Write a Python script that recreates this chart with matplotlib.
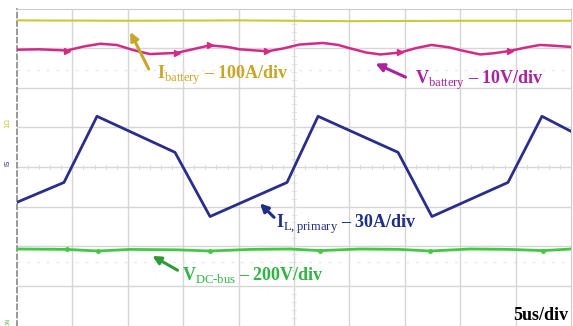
import matplotlib.pyplot as plt

# scope trace readings, time in us (5us/div), level in divisions (0-8 from bottom)
t_ibat = [0, 10, 20, 30, 40, 50]
ibat = [7.70, 7.69, 7.70, 7.68, 7.69, 7.69]

t_vbat = [0, 2.0, 4.5, 6.0, 7.5, 9.0, 10.5, 12.0, 14.4, 16.0, 17.4, 19.0, 20.1,
          22.6, 24.0, 25.5, 27.6, 29.0, 30.0, 31.5, 32.8, 34.6, 36.0, 37.4,
          39.0, 40.0, 41.8, 43.0, 44.5, 46.0, 47.2, 48.5, 50]
vbat = [6.96, 6.97, 6.94, 7.04, 7.11, 7.08, 6.95, 6.85, 6.88, 6.98, 7.07, 7.03, 6.97,
        6.92, 6.99, 7.09, 7.13, 7.08, 7.00, 6.89, 6.84, 6.89, 7.00, 7.08,
        7.02, 6.95, 6.84, 6.87, 6.93, 7.02, 7.08, 7.06, 7.03]

t_il = [0, 4.24, 7.22, 14.26, 17.42, 24.37, 27.17, 34.39, 37.45, 44.31, 47.38, 50]
il = [3.11, 3.61, 5.28, 4.37, 2.75, 3.61, 5.28, 4.37, 2.75, 3.61, 5.28, 4.90]

t_vdc = [0, 4.51, 7.31, 10.2, 14.44, 17.42, 21.03, 24.64, 27.35, 30.96,
         34.57, 37.27, 40.88, 44.49, 47.47, 50]
vdc = [1.93, 1.92, 1.88, 1.92, 1.91, 1.88, 1.92, 1.93, 1.89, 1.93,
       1.92, 1.88, 1.93, 1.92, 1.89, 1.93]

plt.rcParams['mathtext.fontset'] = 'custom'
plt.rcParams['mathtext.rm'] = 'Liberation Serif'
plt.rcParams['mathtext.bf'] = 'Liberation Serif:bold'

fig = plt.figure(figsize=(5.73, 3.26), dpi=100)
ax = fig.add_axes([17 / 573, 0.5 / 326, 554 / 573, 317 / 326])
ax.set_xlim(0, 50)
ax.set_ylim(0, 8)

# scope graticule
grid_c = '#d6d6d6'
for x in range(5, 50, 5):
    ax.axvline(x, color=grid_c, lw=1, zorder=1)
for y in range(1, 8):
    ax.axhline(y, color=grid_c, lw=1, zorder=1)
ax.axhline(6.46, color='#e8e8e8', lw=1, ls=(0, (2, 5)), zorder=1)
ax.axhline(1.59, color='#e8e8e8', lw=1, ls=(0, (2, 5)), zorder=1)
for i in range(1, 50):
    ax.plot([i, i], [3.95, 4.05], color='#dadada', lw=0.7, zorder=1)
for i in range(1, 40):
    ax.plot([24.8, 25.2], [i * 0.2, i * 0.2], color='#e0e0e0', lw=0.7, zorder=1)

for side in ['top', 'right', 'bottom']:
    ax.spines[side].set_color('#cccccc')
ax.spines['left'].set_color('#888888')
ax.spines['left'].set_linestyle((0, (3, 2)))
ax.spines['left'].set_linewidth(1.2)
ax.set_xticks([])
ax.set_yticks([])

# traces
ax.plot(t_ibat, ibat, color='#c9c93a', lw=1.5, zorder=3)
ax.plot(t_vbat, vbat, color='#d22a86', lw=1.8, zorder=3,
        marker='>', markersize=4, markevery=[2, 8, 10, 13, 21, 28])
ax.plot(t_il, il, color='#2b2c8c', lw=2.0, zorder=3)
ax.plot(t_vdc, vdc, color='#43c843', lw=2.0, zorder=3,
        marker='o', markersize=2.5, markevery=[1, 2, 5, 8, 11, 14])

# channel markers on the left edge
fig.text(7 / 573, 1 - 123 / 326, '1Ω', rotation=90, fontsize=5, color='#c9c93a',
         ha='center', va='center')
fig.text(7 / 573, 1 - 163 / 326, 'IS', rotation=90, fontsize=5, color='#2b2c8c',
         ha='center', va='center')
fig.text(8 / 573, 1 - 322 / 326, 'DN', rotation=90, fontsize=4, color='#43c843',
         ha='center', va='center')

# labels with arrows
fs = 13
ax.text(12.64, 6.21, r'$\mathbf{I}_{\mathrm{battery}}$ – 100A/div', color='#c8a62a',
        fontsize=fs, fontweight='bold', family='Liberation Serif', va='baseline', zorder=5)
ax.annotate('', xy=(10.11, 7.47), xytext=(12.0, 6.41),
            arrowprops=dict(arrowstyle='-|>', color='#c8a62a', lw=2.2, mutation_scale=12))

ax.text(35.92, 6.09, r'$\mathbf{V}_{\mathrm{battery}}$ – 10V/div', color='#a8239c',
        fontsize=fs, fontweight='bold', family='Liberation Serif', va='baseline', zorder=5)
ax.annotate('', xy=(32.13, 6.64), xytext=(35.29, 6.24),
            arrowprops=dict(arrowstyle='-|>', color='#a8239c', lw=2.2, mutation_scale=12))

ax.text(23.38, 2.47, r'$\mathbf{I}_{\mathrm{L,primary}}$ – 30A/div', color='#1f2f86',
        fontsize=fs, fontweight='bold', family='Liberation Serif', va='baseline', zorder=5)
ax.annotate('', xy=(21.75, 3.13), xytext=(23.38, 2.68),
            arrowprops=dict(arrowstyle='-|>', color='#1f2f86', lw=2.2, mutation_scale=12))

ax.text(14.89, 1.16, r'$\mathbf{V}_{\mathrm{DC\text{-}bus}}$ – 200V/div', color='#33b344',
        fontsize=fs, fontweight='bold', family='Liberation Serif', va='baseline', zorder=5)
ax.annotate('', xy=(12.0, 1.79), xytext=(14.71, 1.36),
            arrowprops=dict(arrowstyle='-|>', color='#2f9a3a', lw=2.2, mutation_scale=12))

ax.text(49.73, 0.15, '5us/div', color='black', fontsize=fs, fontweight='bold',
        family='Liberation Serif', ha='right', va='baseline', zorder=5)

fig.savefig('out.png', dpi=100)
